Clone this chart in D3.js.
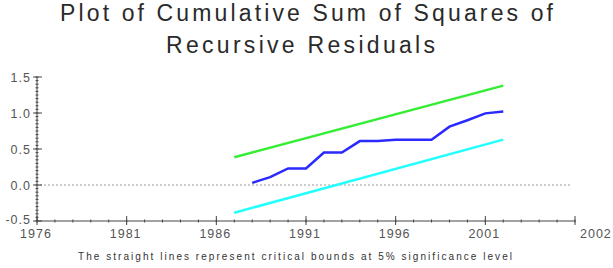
<!DOCTYPE html>
<html><head><meta charset="utf-8">
<script src="https://cdn.jsdelivr.net/npm/d3@7"></script>
<style>body{margin:0;background:#fff}svg{display:block}text{font-family:"Liberation Sans",Arial,sans-serif}</style>
</head><body>
<svg id="c" width="613" height="268"></svg>
<script>
const years = [1988,1989,1990,1991,1992,1993,1994,1995,1996,1997,1998,1999,2000,2001,2002];
const cusumsq = [0.03,0.11,0.23,0.23,0.45,0.45,0.61,0.61,0.63,0.63,0.63,0.81,0.90,0.995,1.02];
const boundYears = [1987,2002];
const upperBound = [0.385,1.38];
const lowerBound = [-0.385,0.63];
const xTicks = [1976,1981,1986,1991,1996,2001];
const xTickLabels = ["1976","1981","1986","1991","1996","2001"];
const yTicks = [-0.5,0.0,0.5,1.0,1.5];
const yTickLabels = ["-0.5","0.0","0.5","1.0","1.5"];
const titleLines = ["Plot of Cumulative Sum of Squares of","Recursive Residuals"];
const footnote = "The straight lines represent critical bounds at 5% significance level";

const svg = d3.select("#c");
const x = d3.scaleLinear().domain([1976,2006]).range([37,575]);
const y = d3.scaleLinear().domain([-0.5,1.5]).range([221,77]);

// title
svg.append("text").attr("x",60).attr("y",21).attr("font-size",23).attr("fill","#2a2a2a")
  .attr("textLength",493).attr("lengthAdjust","spacing").text(titleLines[0]);
svg.append("text").attr("x",166).attr("y",53).attr("font-size",23).attr("fill","#2a2a2a")
  .attr("textLength",269).attr("lengthAdjust","spacing").text(titleLines[1]);

// zero reference line
svg.append("line").attr("x1",x(1976)+3).attr("x2",x(2006)-3).attr("y1",y(0)).attr("y2",y(0))
  .attr("stroke","#999").attr("stroke-width",1).attr("stroke-dasharray","2,2");

const axisCol = "#444";
// y axis
svg.append("line").attr("x1",x(1976)).attr("x2",x(1976)).attr("y1",y(1.5)).attr("y2",y(-0.5)).attr("stroke",axisCol);
const yMinor = d3.range(-0.5,1.5001,0.05);
svg.selectAll(".ymin").data(yMinor).enter().append("line")
  .attr("x1",x(1976)-1.5).attr("x2",x(1976)+1.5).attr("y1",d=>y(d)).attr("y2",d=>y(d)).attr("stroke",axisCol);
svg.selectAll(".ymaj").data(yTicks).enter().append("line")
  .attr("x1",x(1976)-4).attr("x2",x(1976)+5).attr("y1",d=>y(d)).attr("y2",d=>y(d)).attr("stroke",axisCol);
svg.selectAll(".ylab").data(yTicks).enter().append("text")
  .attr("x",31).attr("y",d=>y(d)+(d<0?3:5)).attr("text-anchor","end").attr("font-size",12.5).attr("fill","#555")
  .attr("letter-spacing",1).text((d,i)=>yTickLabels[i]);

// x axis
svg.append("line").attr("x1",x(1976)).attr("x2",x(2006)).attr("y1",y(-0.5)).attr("y2",y(-0.5)).attr("stroke",axisCol);
const xMinor = d3.range(1976,2007,1);
svg.selectAll(".xmin").data(xMinor).enter().append("line")
  .attr("x1",d=>x(d)).attr("x2",d=>x(d)).attr("y1",y(-0.5)-1.5).attr("y2",y(-0.5)+1.5).attr("stroke",axisCol);
svg.selectAll(".xmaj").data(xTicks.concat([2006])).enter().append("line")
  .attr("x1",d=>x(d)).attr("x2",d=>x(d)).attr("y1",y(-0.5)-5).attr("y2",y(-0.5)+4).attr("stroke",axisCol);
svg.selectAll(".xlab").data(xTicks).enter().append("text")
  .attr("x",d=>x(d)-1).attr("y",238).attr("text-anchor","middle").attr("font-size",12.5).attr("fill","#555")
  .attr("letter-spacing",1).text((d,i)=>xTickLabels[i]);
svg.append("text").attr("x",580).attr("y",238).attr("font-size",12.5).attr("fill","#555")
  .attr("letter-spacing",1).text("2002");

// lines
const line = d3.line().x(d=>x(d[0])).y(d=>y(d[1]));
svg.append("path").datum(d3.zip(boundYears,upperBound)).attr("d",line)
  .attr("fill","none").attr("stroke","#33ee33").attr("stroke-width",2.5);
svg.append("path").datum(d3.zip(boundYears,lowerBound)).attr("d",line)
  .attr("fill","none").attr("stroke","#22ffff").attr("stroke-width",2.5);
svg.append("path").datum(d3.zip(years,cusumsq)).attr("d",line)
  .attr("fill","none").attr("stroke","#2a2aff").attr("stroke-width",2.5);

// footnote
svg.append("text").attr("x",78).attr("y",260).attr("font-size",10).attr("fill","#333")
  .attr("textLength",434).attr("lengthAdjust","spacing").text(footnote);
</script>
</body></html>
